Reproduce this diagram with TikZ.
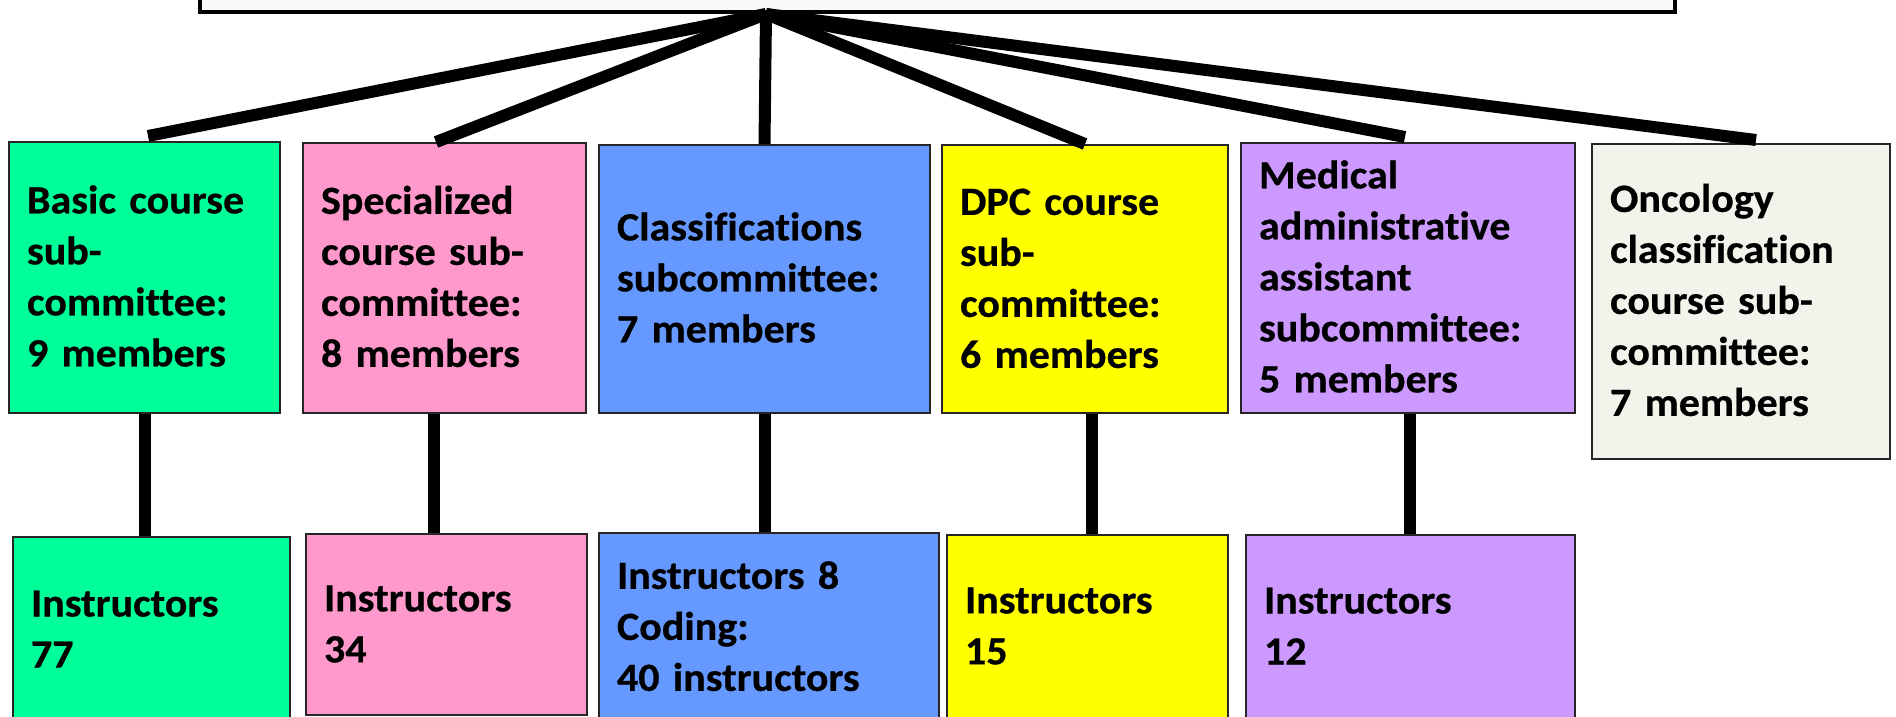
\documentclass[tikz,border=0pt]{standalone}
\usepackage{fontspec}
\setmainfont{Carlito}[Ligatures=NoCommon, BoldFeatures={FakeStretch=1.05, FakeBold=0.6}]
\definecolor{cgreen}{HTML}{00FF99}
\definecolor{cpink}{HTML}{FF99CC}
\definecolor{cblue}{HTML}{6699FF}
\definecolor{cyellow}{HTML}{FFFF00}
\definecolor{cpurple}{HTML}{CC99FF}
\definecolor{conc}{HTML}{F3F3EC}
\definecolor{ctop}{HTML}{FBFAF8}
\tikzset{
  box/.style 2 args={draw=black!85, line width=2pt, rectangle, inner xsep=18pt, inner ysep=0pt,
    minimum width=#1, minimum height=#2, text width=#1-36pt, align=left,
    font=\bfseries\fontsize{40}{51}\selectfont, text height=25pt},
  link/.style={line width=12pt, line cap=butt, black}
}
\begin{document}
\begin{tikzpicture}[x=1pt,y=-1pt]
\useasboundingbox (0,0) rectangle (1896,716);
\node[draw=black, line width=3.5pt, fill=ctop, minimum width=1475pt, minimum height=60pt, inner sep=0pt] (top) at (937.5,-18) {};
\coordinate (hub) at (766,14);
% upper row
\node[box={271pt}{271pt}, fill=cgreen] (g1) at (144.5,277.5) {Basic course\\sub-\\committee:\\9 members};
\node[box={283pt}{270pt}, fill=cpink] (p1) at (444.5,278) {Specialized\\course sub-\\committee:\\8 members};
\node[box={331pt}{268pt}, fill=cblue] (b1) at (764.5,279) {Classifications\\subcommittee:\\7 members};
\node[box={286pt}{268pt}, fill=cyellow] (y1) at (1085,279) {DPC course\\sub-\\committee:\\6 members};
\node[box={334pt}{270pt}, fill=cpurple] (m1) at (1408,278) {Medical\\administrative\\assistant\\subcommittee:\\5 members};
\node[box={298pt}{315pt}, fill=conc] (o1) at (1741,301.5) {Oncology\\classification\\course sub-\\committee:\\7 members};
% lower row
\node[box={277pt}{185pt}, fill=cgreen] (g2) at (151.5,629.5) {Instructors\\77};
\node[box={281pt}{181pt}, fill=cpink] (p2) at (446.5,624.5) {Instructors\\34};
\node[box={340pt}{189pt}, fill=cblue] (b2) at (769,627.5) {Instructors 8\\Coding:\\40 instructors};
\node[box={281pt}{183pt}, fill=cyellow] (y2) at (1087.5,626.5) {Instructors\\15};
\node[box={329pt}{183pt}, fill=cpurple] (m2) at (1410.5,626.5) {Instructors\\12};
% connectors from the top
\draw[link] (hub) -- ([xshift=3.5pt,yshift=5pt]g1.north);
\draw[link] (hub) -- ([xshift=-8.5pt]p1.north);
\draw[link] (hub) -- (b1.north);
\draw[link] (hub) -- (y1.north);
\draw[link] (hub) -- ([xshift=-3pt,yshift=5pt]m1.north);
\draw[link] (hub) -- ([xshift=15pt,yshift=3pt]o1.north);
% vertical connectors
\draw[link] (g1.south) -- (g1.south |- g2.north);
\draw[link] ([xshift=-10.5pt]p1.south) -- ([xshift=-10.5pt]p1.south |- p2.north);
\draw[link] (b1.south) -- (b1.south |- b2.north);
\draw[link] ([xshift=7pt]y1.south) -- ([xshift=7pt]y1.south |- y2.north);
\draw[link] ([xshift=2pt]m1.south) -- ([xshift=2pt]m1.south |- m2.north);
\end{tikzpicture}
\end{document}
